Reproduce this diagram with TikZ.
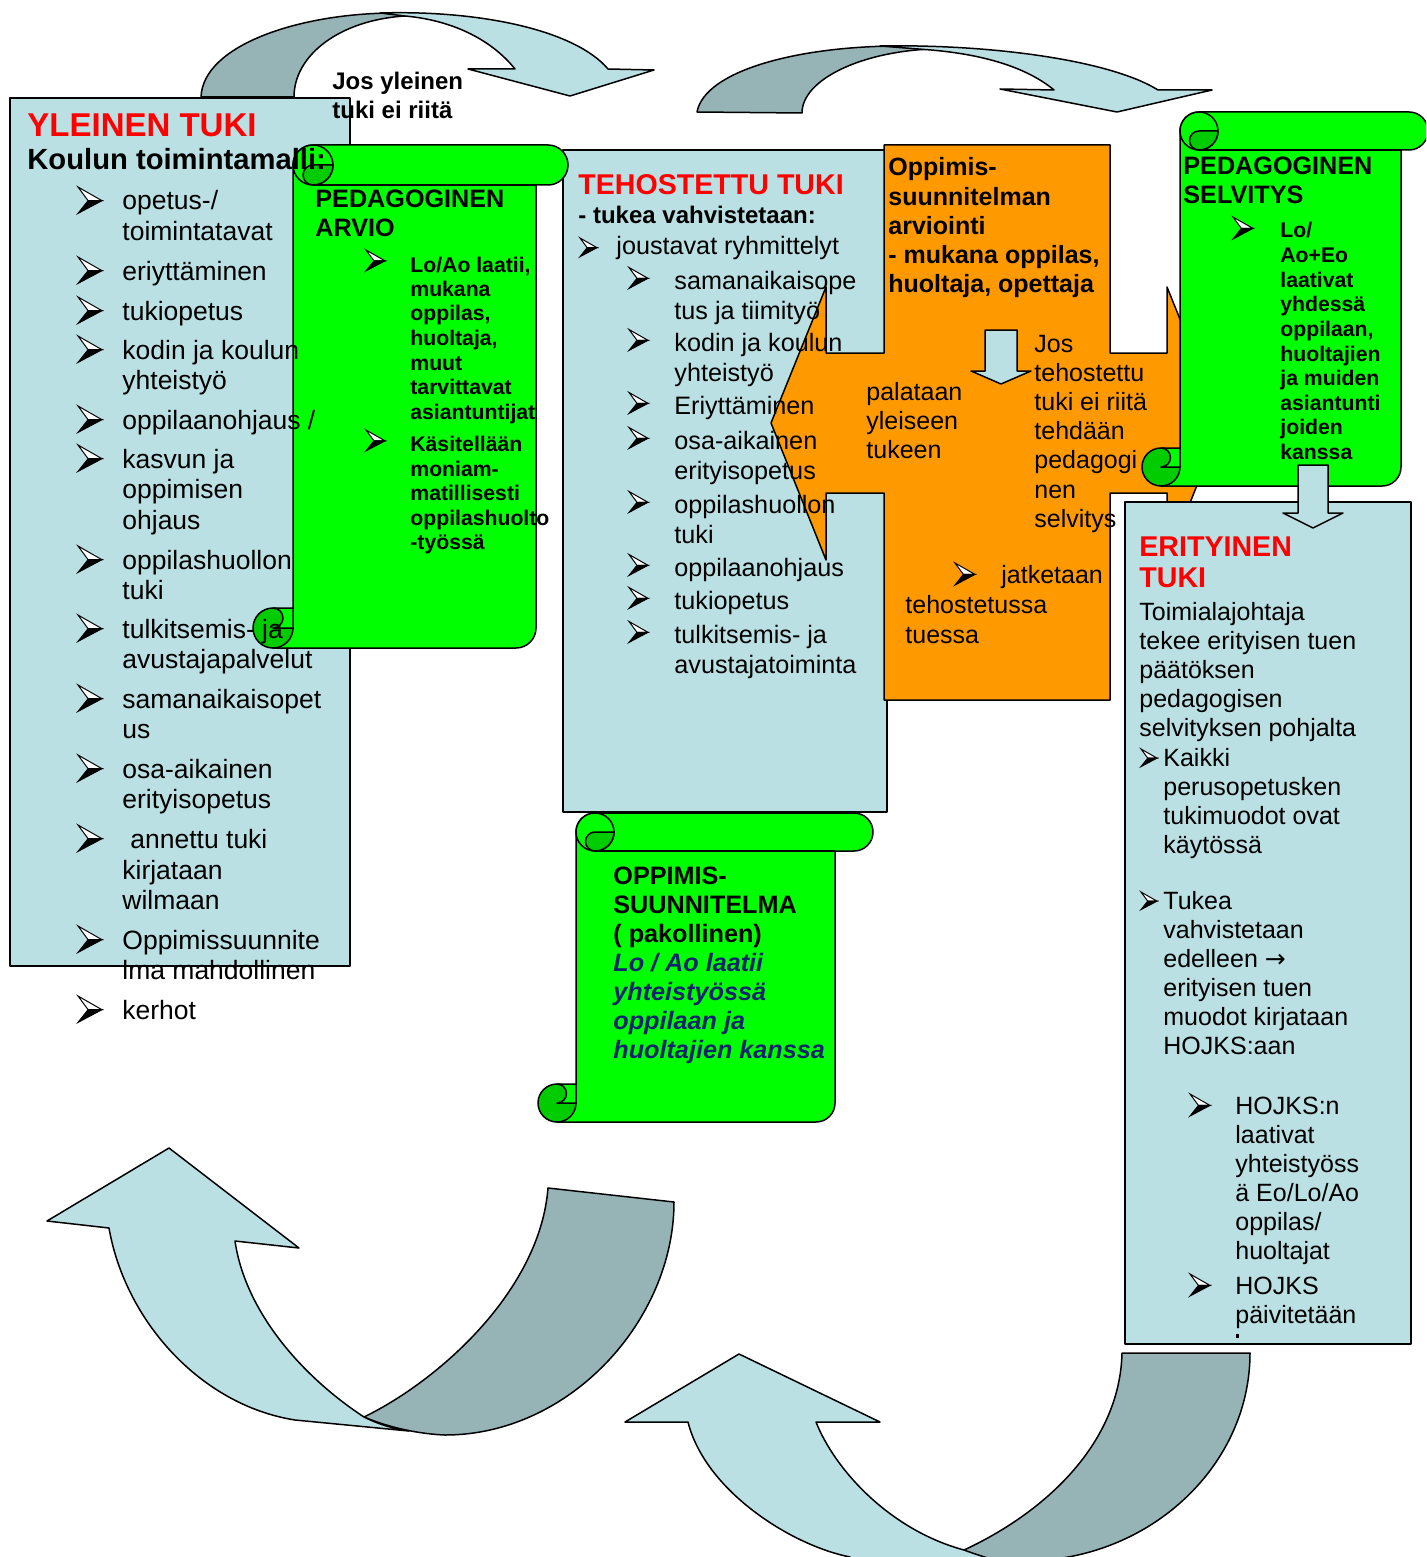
\documentclass[tikz,border=0pt]{standalone}
\usepackage{fontspec}
\setmainfont{Liberation Sans}
\newfontfamily\djv{DejaVu Sans}
\definecolor{lb}{RGB}{187,224,227}
\definecolor{db}{RGB}{150,179,182}
\definecolor{org}{RGB}{255,153,0}
\definecolor{grn}{RGB}{0,255,0}
\definecolor{dgrn}{RGB}{0,204,0}
\definecolor{ital}{RGB}{16,36,110}
\definecolor{rd}{RGB}{255,0,0}
\tikzset{
  ol/.style={draw=black,line width=0.75pt,line join=round},
  tx/.style={inner sep=0pt,anchor=base west},
  yf/.style={font=\fontsize{13.25}{15}\selectfont},
  tf/.style={font=\fontsize{12.6}{14}\selectfont},
  ef/.style={font=\fontsize{12.5}{14}\selectfont},
  of/.style={font=\fontsize{12.5}{14}\selectfont},
  obf/.style={font=\fontsize{12.5}{14}\selectfont\bfseries},
  hf/.style={font=\fontsize{12.6}{14}\selectfont\bfseries},
  sf/.style={font=\fontsize{10.6}{12}\selectfont\bfseries},
  itf/.style={font=\fontsize{12.6}{14}\selectfont\bfseries\itshape,text=ital},
  jf/.style={font=\fontsize{12}{14}\selectfont\bfseries},
  redf/.style={font=\fontsize{14.3}{16}\selectfont\bfseries,text=rd},
}
\newcommand\txtlines[6]{\foreach \lnx [count=\ix] in {#6} {\node[tx,#5] (#1\ix) at ({#2},{#3+(\ix-1)*(#4)}) {\lnx};}}
\newcommand\bul[3]{%
  \begin{scope}[shift={(#1,#2)}]
  \filldraw[fill=white,line width=0.5pt,line join=miter] (0,0) -- (#3,0.57*#3) -- (0.42*#3,0.57*#3) -- cycle;
  \filldraw[fill=black,line width=0.5pt,line join=miter] (0.42*#3,0.57*#3) -- (#3,0.57*#3) -- (0,1.1*#3) -- cycle;
  \end{scope}}
% xl xr T B R r
\newcommand\scroll[6]{%
  \filldraw[fill=grn,ol] (#1,#4-#6) -- (#1,#3+#6) arc[start angle=180,end angle=270,radius=#6] -- (#5-#6,#3) arc[start angle=270,end angle=450,radius=#6] -- (#2,#3+2*#6) -- (#2,#4-#6) arc[start angle=0,end angle=90,radius=#6] -- (#1-#6,#4) -- cycle;
  \draw[ol] (#1+#6,#3+2*#6) -- (#2,#3+2*#6);
  \filldraw[fill=grn,ol] (#1+#6,#3+#6) circle[radius=#6];
  \filldraw[fill=dgrn,ol] (#1+#6,#3+#6) -- (#1+2*#6,#3+#6) arc[start angle=0,end angle=90,radius=#6] arc[start angle=90,end angle=270,radius=#6/2] -- cycle;
  \filldraw[fill=dgrn,ol] (#1-#6,#4-#6) circle[radius=#6];
  \filldraw[fill=grn,ol] (#1-#6,#4-2*#6) -- (#1,#4-2*#6) -- (#1,#4-#6) -- (#1-#6,#4-#6) arc[start angle=90,end angle=-90,radius=#6/2] -- cycle;
}
\begin{document}
\begin{tikzpicture}[x=0.5pt,y=-0.5pt]
\clip (0,0) rectangle (1426,1557);
\fill[white] (0,0) rectangle (1426,1557);
% ---------- top curved arrows
\filldraw[fill=db,ol] (201,97) .. controls (203,45) and (300,13) .. (395,13) -- (405,16) .. controls (340,20) and (294,55) .. (294,97) -- cycle;
\filldraw[fill=lb,ol] (380,13) .. controls (480,10) and (575,30) .. (608,69) -- (654,70) -- (570,96) -- (468,69) -- (515,69) .. controls (490,38) and (450,20) .. (405,16) -- cycle;
\filldraw[fill=db,ol] (697,112) .. controls (705,70) and (800,46) .. (900,46) -- (931,49) .. controls (860,52) and (802,80) .. (802,113) -- cycle;
\filldraw[fill=lb,ol] (880,46) .. controls (990,44) and (1110,60) .. (1158,90) -- (1212,90) -- (1117,112) -- (1000,89) -- (1054,90) .. controls (1030,70) and (990,55) .. (931,50) -- cycle;
% ---------- bottom curved arrows
\filldraw[fill=db,ol] (548,1188) -- (674,1202) .. controls (674,1320) and (570,1435) .. (445,1435) .. controls (420,1434) and (390,1428) .. (364,1417) .. controls (440,1380) and (540,1290) .. (548,1188) -- cycle;
\filldraw[fill=lb,ol] (169,1148) -- (299,1248) -- (235,1241) .. controls (245,1310) and (300,1375) .. (364,1417) .. controls (380,1425) and (395,1429) .. (409,1431) -- (295,1420) .. controls (200,1405) and (125,1320) .. (109,1228) -- (47,1221) -- cycle;
\filldraw[fill=db,ol] (1122,1353) -- (1250,1353) .. controls (1250,1460) and (1160,1550) .. (1046,1560) -- (960,1580) -- (964,1550) .. controls (1050,1510) and (1120,1440) .. (1122,1353) -- cycle;
\filldraw[fill=lb,ol] (739,1354) -- (880,1422) -- (816,1422) .. controls (835,1470) and (890,1530) .. (964,1550) .. controls (980,1556) and (995,1560) .. (1010,1565) -- (1010,1600) -- (870,1600) -- (850,1557) .. controls (790,1545) and (705,1490) .. (688,1422) -- (625,1422) -- cycle;
% ---------- boxes
\filldraw[fill=lb,ol] (10,98) rectangle (350,966);
\filldraw[fill=lb,ol] (563,150) rectangle (887,812);
\scroll{293}{536}{145}{648}{568}{20}
\filldraw[fill=org,ol] (771,423) -- (826,287) -- (826,353) -- (884,353) -- (884,145) -- (1110,145) -- (1110,353) -- (1167,353) -- (1167,287) -- (1222,423) -- (1167,560) -- (1167,493) -- (1110,493) -- (1110,700) -- (884,700) -- (884,493) -- (826,493) -- (826,560) -- cycle;
\scroll{1180}{1401}{112}{486}{1428}{19}
\filldraw[fill=lb,ol] (1125,502) rectangle (1411,1344);
\filldraw[fill=lb,ol] (985,330) -- (1017,330) -- (1017,371) -- (1031,371) -- (1001,384) -- (971,371) -- (985,371) -- cycle;
\filldraw[fill=lb,ol] (1298,465) -- (1328,465) -- (1328,513) -- (1343,513) -- (1313,528) -- (1283,513) -- (1298,513) -- cycle;
\scroll{576}{835}{813}{1122}{873}{19}
\fill (1236,1334) rectangle (1238.5,1338);
% ---------- texts: YLEINEN
\node[tx,font=\fontsize{16.5}{18}\selectfont\bfseries,text=rd] (ylt) at (27,137) {YLEINEN TUKI};
\node[tx,font=\fontsize{14.6}{16}\selectfont\bfseries] (ylk) at (27,170) {Koulun toimintamalli:};
\foreach \b in {210,280,320,359,429,468,569,638,708,778,848,949,1019} {\bul{78}{\b-23}{24}}
\txtlines{ya}{122}{210}{30.5}{yf}{opetus-/,toimintatavat}
\txtlines{yb}{122}{280}{30.5}{yf}{eriyttäminen}
\txtlines{yc}{122}{320}{30.5}{yf}{tukiopetus}
\txtlines{yd}{122}{359}{30.5}{yf}{kodin ja koulun,yhteistyö}
\txtlines{ye}{122}{429}{30.5}{yf}{oppilaanohjaus /}
\txtlines{yg}{122}{468}{30.5}{yf}{kasvun ja,oppimisen,ohjaus}
\txtlines{yh}{122}{569}{30.5}{yf}{oppilashuollon,tuki}
\txtlines{yi}{122}{638}{30.5}{yf}{tulkitsemis- ja,avustajapalvelut}
\txtlines{yj}{122}{708}{30.5}{yf}{samanaikaisopet,us}
\txtlines{yk}{122}{778}{30.5}{yf}{osa-aikainen,erityisopetus}
\node[tx,yf] (yl1) at (130,848) {annettu tuki};
\txtlines{ym}{122}{879}{30.5}{yf}{kirjataan,wilmaan}
\txtlines{yn}{122}{949}{30.5}{yf}{Oppimissuunnite,lma mahdollinen}
\txtlines{yo}{122}{1019}{30.5}{yf}{kerhot}
% Jos yleinen
\txtlines{jy}{332}{90}{28.5}{jf}{Jos yleinen,tuki ei riitä}
% PED ARVIO
\txtlines{pa}{315}{208}{29}{hf}{PEDAGOGINEN,ARVIO}
\bul{366}{250}{19}
\bul{366}{430}{19}
\txtlines{pb}{410}{272}{24.5}{sf}{{Lo/Ao laatii,},mukana,{oppilas,},{huoltaja,},muut,tarvittavat,asiantuntijat}
\txtlines{pc}{410}{451.5}{24.5}{sf}{Käsitellään,moniam-,matillisesti,oppilashuolto,-työssä}
% TEHOSTETTU
\node[tx,redf] (tht) at (578,195) {TEHOSTETTU TUKI};
\node[tx,jf] (thv) at (578,224) {- tukea vahvistetaan:};
\bul{580}{238}{17}
\node[tx,tf] (thj) at (616,255) {joustavat ryhmittelyt};
\foreach \b in {289.5,351.5,414.5,449.5,513.5,576.5,609.5,643.5} {\bul{629}{\b-22}{19}}
\txtlines{ta}{674}{289.5}{29.5}{tf}{samanaikaisope,tus ja tiimityö}
\txtlines{tb}{674}{351.5}{29.5}{tf}{kodin ja koulun,yhteistyö}
\txtlines{tc}{674}{414.5}{29.5}{tf}{Eriyttäminen}
\txtlines{td}{674}{449.5}{29.5}{tf}{osa-aikainen,erityisopetus}
\txtlines{te}{674}{513.5}{29.5}{tf}{oppilashuollon,tuki}
\txtlines{tg}{674}{576.5}{29.5}{tf}{oppilaanohjaus}
\txtlines{th}{674}{609.5}{29.5}{tf}{tukiopetus}
\txtlines{ti}{674}{643.5}{29.5}{tf}{tulkitsemis- ja,avustajatoiminta}
% orange
\txtlines{oa}{888}{176}{29.2}{obf}{Oppimis-,suunnitelman,arviointi,{- mukana oppilas,},{huoltaja, opettaja}}
\txtlines{ob}{866}{400}{29}{of}{palataan,yleiseen,tukeen}
\txtlines{oc}{1034}{352}{29.2}{of}{Jos,tehostettu,tuki ei riitä,tehdään,pedagogi,nen,selvitys}
\bul{955}{563}{20}
\node[tx,of] (od1) at (1001,583) {jatketaan};
\txtlines{oe}{905}{613}{30}{of}{tehostetussa,tuessa}
% SELVITYS
\txtlines{sa}{1183}{175}{29}{hf}{PEDAGOGINEN,SELVITYS}
\bul{1233}{217}{20}
\txtlines{sb}{1280}{238}{24.6}{sf}{Lo/,Ao+Eo,laativat,yhdessä,{oppilaan,},huoltajien,ja muiden,asiantunti,joiden,kanssa}
% OPPIMIS
\txtlines{pp}{613}{884}{29.1}{hf}{OPPIMIS-,SUUNNITELMA,( pakollinen)}
\txtlines{pq}{613}{971.3}{29.1}{itf}{Lo / Ao laatii,yhteistyössä,oppilaan ja,huoltajien kanssa}
% ERITYINEN
\txtlines{ea}{1139}{556}{31}{redf}{ERITYINEN,TUKI}
\txtlines{eb}{1139}{620}{29}{ef}{Toimialajohtaja,tekee erityisen tuen,päätöksen,pedagogisen,selvityksen pohjalta}
\bul{1141}{749}{16}
\txtlines{ec}{1163}{766}{29}{ef}{Kaikki,perusopetusken,tukimuodot ovat,käytössä}
\bul{1141}{892}{16}
\txtlines{ed}{1163}{909}{29}{ef}{Tukea,vahvistetaan,{edelleen {\djv →}},erityisen tuen,muodot kirjataan,HOJKS:aan}
\bul{1190}{1094}{20}
\txtlines{ee}{1235}{1114}{29}{ef}{HOJKS:n,laativat,yhteistyöss,ä Eo/Lo/Ao,oppilas/,huoltajat}
\bul{1190}{1274}{20}
\txtlines{eg}{1235}{1294}{29}{ef}{HOJKS,päivitetään}
\end{tikzpicture}
\end{document}
